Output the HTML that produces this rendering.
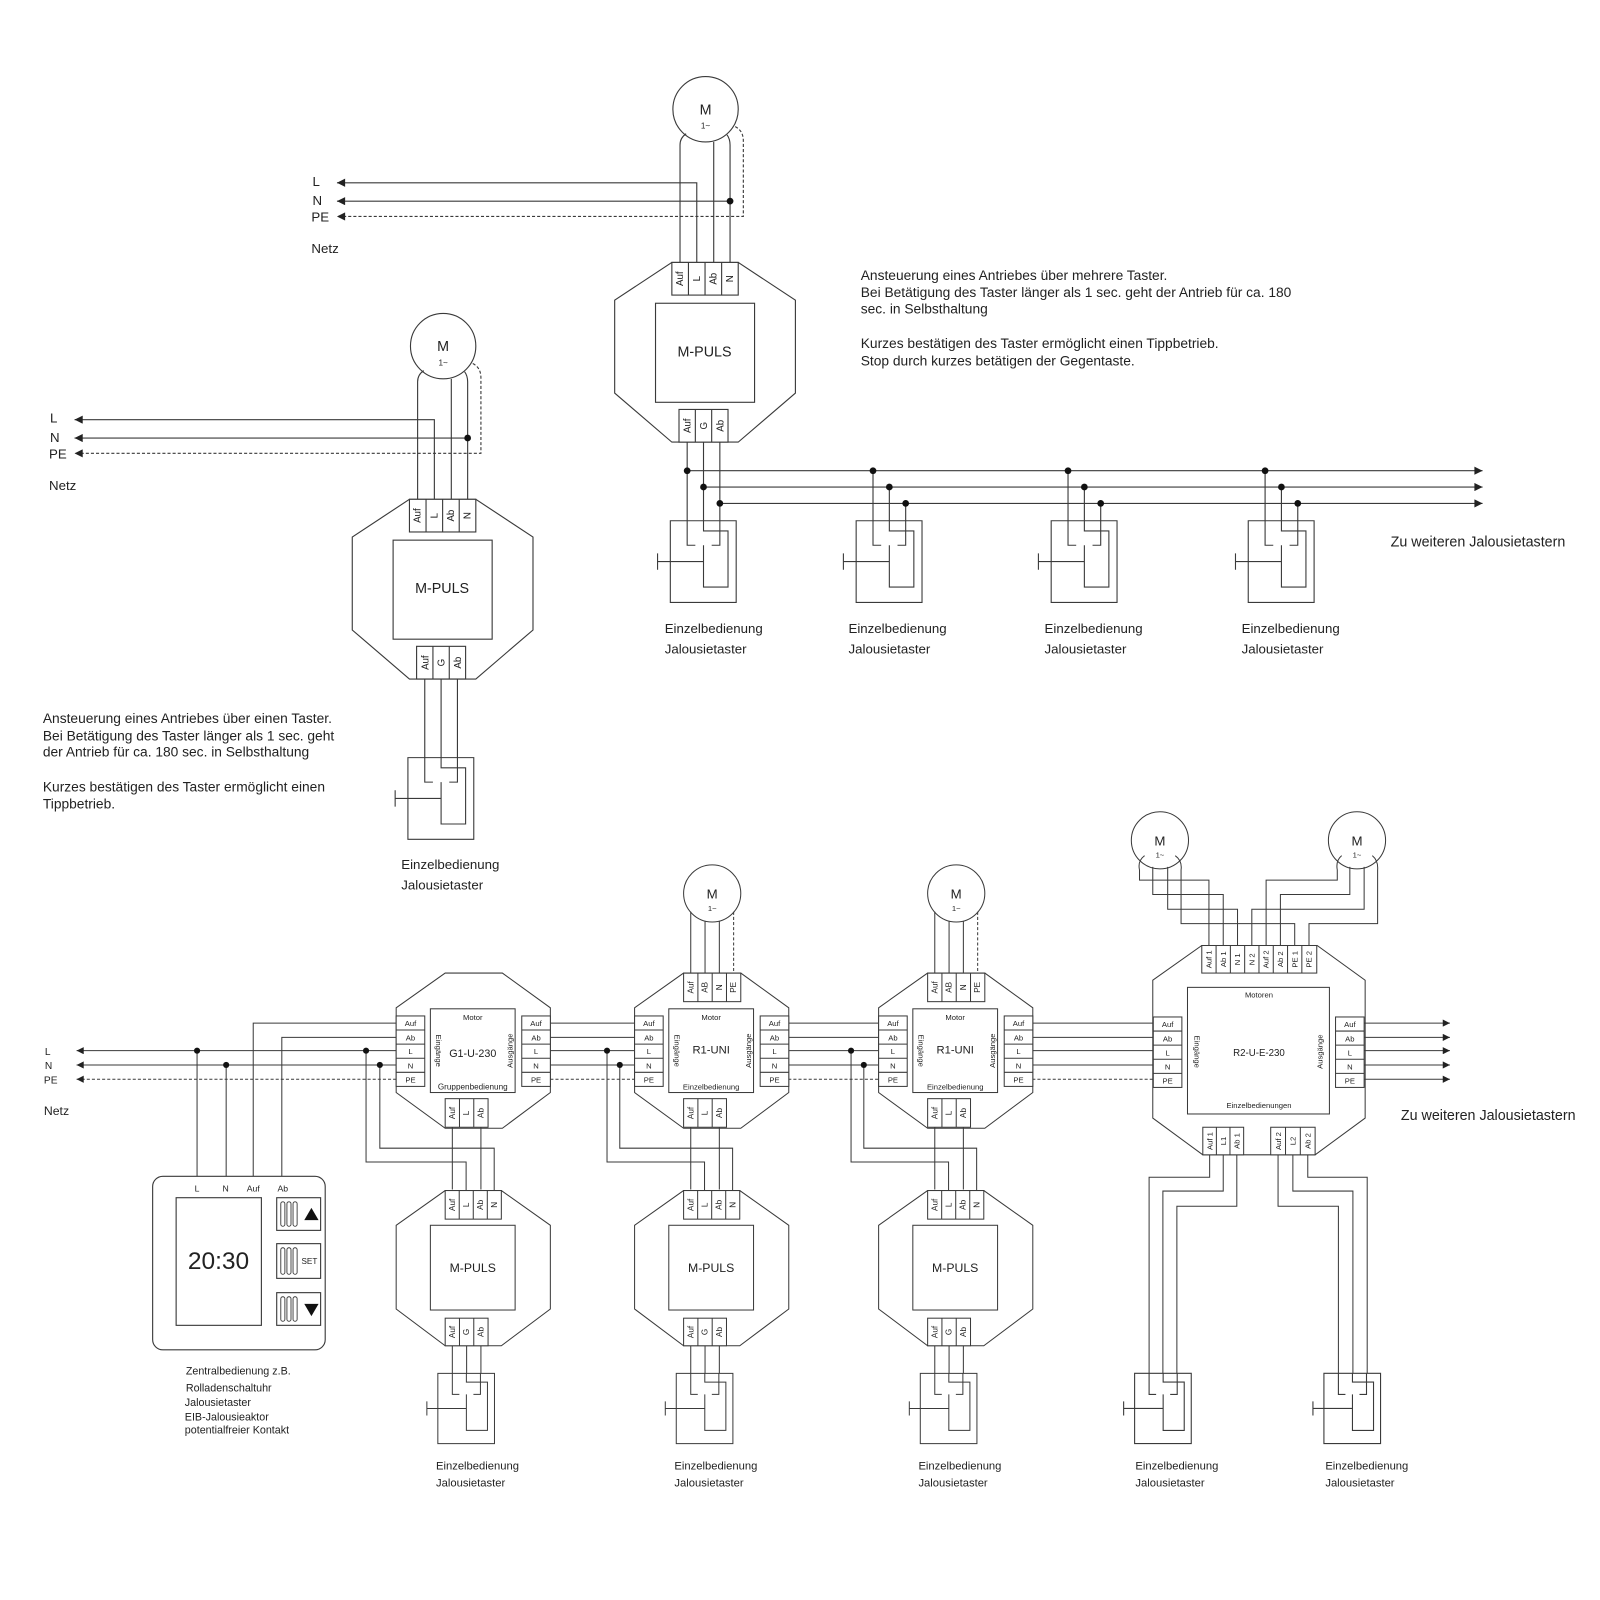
<!DOCTYPE html>
<html><head><meta charset="utf-8"><style>
html,body{margin:0;padding:0;background:#fff;}
svg{display:block;}
text{font-family:"Liberation Sans",Arial,sans-serif;fill:#222;stroke:none;}
.r{text-anchor:middle;}
</style></head><body>
<svg width="1600" height="1600" viewBox="0 0 1567 1567" xmlns="http://www.w3.org/2000/svg">
<defs>
<marker id="ah" viewBox="0 0 10 10" refX="10" refY="5" markerWidth="15" markerHeight="8" markerUnits="userSpaceOnUse" orient="auto-start-reverse"><path d="M0,0 L10,5 L0,10 z" fill="#222" stroke="none"/></marker>
<marker id="ah2" viewBox="0 0 10 10" refX="10" refY="5" markerWidth="14" markerHeight="7" markerUnits="userSpaceOnUse" orient="auto-start-reverse"><path d="M0,0 L10,5 L0,10 z" fill="#222" stroke="none"/></marker>
<g id="sw" fill="none" stroke="#3a3a3a">
<rect x="-16.5" y="0" width="64.5" height="80" vector-effect="non-scaling-stroke"/>
<path vector-effect="non-scaling-stroke" d="M16,0 V10 H40 V65 H16 V24 M0,0 V24 H8 M32,0 V24 H24 M-29,40 H16 M-29,32 V48"/>
</g>
<g id="mA" fill="none" stroke="#3a3a3a" stroke-width="1.1">
<circle cx="691" cy="107" r="32"/>
<text x="691" y="112" class="r" font-size="14">M</text>
<text x="691" y="126" class="r" font-size="8">1~</text>
<path d="M672,131 Q666,135 666,142 V257 M699,139 V257 M712,132 Q715,136 715,142 V257"/>
<path d="M720,124 Q728,128 728,138 V212 H330" stroke-dasharray="3,2" marker-end="url(#ah)"/>
<path d="M682.4,257 V179 H330" marker-end="url(#ah)"/>
<path d="M715,197 H330" marker-end="url(#ah)"/>
<circle cx="715" cy="197" r="3.3" fill="#111" stroke="none"/>
<polygon points="658,257 723,257 779,294 779,385 723,433 658,433 602,385 602,294"/>
<rect x="658" y="257" width="65" height="32" fill="#fff"/>
<path d="M674.25,257 V289 M690.5,257 V289 M706.75,257 V289"/>
<g font-size="9.5"><text transform="translate(669,273) rotate(-90)" class="r">Auf</text><text transform="translate(685.5,273) rotate(-90)" class="r">L</text><text transform="translate(701.8,273) rotate(-90)" class="r">Ab</text><text transform="translate(718,273) rotate(-90)" class="r">N</text></g>
<rect x="642" y="297" width="97" height="97"/>
<text x="690" y="349" class="r" font-size="14">M-PULS</text>
<rect x="665" y="401" width="48" height="32" fill="#fff"/>
<path d="M681,401 V433 M697,401 V433"/>
<g font-size="9.5"><text transform="translate(676.5,417) rotate(-90)" class="r">Auf</text><text transform="translate(692.5,417) rotate(-90)" class="r">G</text><text transform="translate(708.5,417) rotate(-90)" class="r">Ab</text></g>
</g>
<g id="mod" fill="none" stroke="#3a3a3a" stroke-width="1">
<polygon points="-48,987 0,953 56,953 103,987 103,1070 56,1105 0,1105 -48,1070"/>
<rect x="-48" y="995" width="28" height="69" fill="#fff"/>
<path d="M-48,1008.8 H-20 M-48,1022.6 H-20 M-48,1036.4 H-20 M-48,1050.2 H-20"/>
<rect x="75" y="995" width="28" height="69" fill="#fff"/>
<path d="M75,1008.8 H103 M75,1022.6 H103 M75,1036.4 H103 M75,1050.2 H103"/>
<g font-size="7.5" class="r"><text x="-34" y="1005">Auf</text><text x="-34" y="1019">Ab</text><text x="-34" y="1032.5">L</text><text x="-34" y="1046.5">N</text><text x="-34" y="1060">PE</text>
<text x="89" y="1005">Auf</text><text x="89" y="1019">Ab</text><text x="89" y="1032.5">L</text><text x="89" y="1046.5">N</text><text x="89" y="1060">PE</text></g>
<rect x="-14.5" y="988" width="83" height="82"/>
<text x="27" y="999" class="r" font-size="7.5">Motor</text>
<text transform="translate(-9,1029) rotate(90)" class="r" font-size="7.5">Eingänge</text>
<text transform="translate(66,1029) rotate(-90)" class="r" font-size="7.5">Ausgänge</text>
<rect x="0" y="1076" width="42" height="28" fill="#fff"/>
<path d="M14,1076 V1104 M28,1076 V1104"/>
<g font-size="8"><text transform="translate(9.5,1090) rotate(-90)" class="r">Auf</text><text transform="translate(23.5,1090) rotate(-90)" class="r">L</text><text transform="translate(37.5,1090) rotate(-90)" class="r">Ab</text></g>
<path d="M7,1104 V1165 M35,1104 V1165"/>
</g>
<g id="mot" fill="none" stroke="#3a3a3a" stroke-width="1">
<circle cx="28" cy="875" r="28"/>
<text x="28" y="880" class="r" font-size="13">M</text>
<text x="28" y="892" class="r" font-size="7.5">1~</text>
<path d="M7,893 V953 M21,902 V953 M35,902 V953"/>
<path d="M49,893 V953" stroke-dasharray="3,2"/>
<rect x="0" y="953" width="56" height="28" fill="#fff"/>
<path d="M14,953 V981 M28,953 V981 M42,953 V981"/>
<g font-size="8"><text transform="translate(9.5,967) rotate(-90)" class="r">Auf</text><text transform="translate(23.5,967) rotate(-90)" class="r">AB</text><text transform="translate(37.5,967) rotate(-90)" class="r">N</text><text transform="translate(51.5,967) rotate(-90)" class="r">PE</text></g>
</g>
<g id="lmp" fill="none" stroke="#3a3a3a" stroke-width="1">
<polygon points="-48,1200 0,1166 55,1166 103,1200 103,1282 55,1318 0,1318 -48,1282"/>
<rect x="0" y="1166" width="55" height="28" fill="#fff"/>
<path d="M13.75,1166 V1194 M27.5,1166 V1194 M41.25,1166 V1194"/>
<g font-size="8"><text transform="translate(9.5,1180) rotate(-90)" class="r">Auf</text><text transform="translate(23.2,1180) rotate(-90)" class="r">L</text><text transform="translate(37,1180) rotate(-90)" class="r">Ab</text><text transform="translate(50.7,1180) rotate(-90)" class="r">N</text></g>
<rect x="-14.5" y="1200" width="83" height="83"/>
<text x="27" y="1246" class="r" font-size="12">M-PULS</text>
<rect x="0" y="1291" width="42" height="27" fill="#fff"/>
<path d="M14,1291 V1318 M28,1291 V1318"/>
<g font-size="8"><text transform="translate(9.5,1304.5) rotate(-90)" class="r">Auf</text><text transform="translate(23.5,1304.5) rotate(-90)" class="r">G</text><text transform="translate(37.5,1304.5) rotate(-90)" class="r">Ab</text></g>
<path d="M7,1318 V1345 M21,1318 V1345 M35,1318 V1345"/>
<use href="#sw" transform="translate(7,1345) scale(0.86)"/>
<text x="-9" y="1439" font-size="11">Einzelbedienung</text>
<text x="-9" y="1456" font-size="11">Jalousietaster</text>
</g>
</defs>

<g fill="none" stroke="#3a3a3a" stroke-width="1.1">

<use href="#mA"/>
<text x="306" y="182" font-size="13">L</text>
<text x="306" y="201" font-size="13">N</text>
<text x="305" y="217" font-size="13">PE</text>
<text x="305" y="248" font-size="13">Netz</text>
<path d="M673,433 V510 M689,433 V510 M705,433 V510"/>
<path d="M673,461 H1452" marker-end="url(#ah)"/>
<path d="M689,477 H1452" marker-end="url(#ah)"/>
<path d="M705,493 H1452" marker-end="url(#ah)"/>
<path d="M855,461 V510 M871,477 V510 M887,493 V510 M1046,461 V510 M1062,477 V510 M1078,493 V510 M1239,461 V510 M1255,477 V510 M1271,493 V510"/>
<g fill="#111" stroke="none">
<circle cx="673" cy="461" r="3.3"/><circle cx="689" cy="477" r="3.3"/><circle cx="705" cy="493" r="3.3"/>
<circle cx="855" cy="461" r="3.3"/><circle cx="871" cy="477" r="3.3"/><circle cx="887" cy="493" r="3.3"/>
<circle cx="1046" cy="461" r="3.3"/><circle cx="1062" cy="477" r="3.3"/><circle cx="1078" cy="493" r="3.3"/>
<circle cx="1239" cy="461" r="3.3"/><circle cx="1255" cy="477" r="3.3"/><circle cx="1271" cy="493" r="3.3"/>
</g>
<use href="#sw" transform="translate(673,510)"/>
<use href="#sw" transform="translate(855,510)"/>
<use href="#sw" transform="translate(1046,510)"/>
<use href="#sw" transform="translate(1239,510)"/>
<g font-size="13">
<text x="651" y="620">Einzelbedienung</text><text x="651" y="640">Jalousietaster</text>
<text x="831" y="620">Einzelbedienung</text><text x="831" y="640">Jalousietaster</text>
<text x="1023" y="620">Einzelbedienung</text><text x="1023" y="640">Jalousietaster</text>
<text x="1216" y="620">Einzelbedienung</text><text x="1216" y="640">Jalousietaster</text>
</g>
<text x="1362" y="535" font-size="14">Zu weiteren Jalousietastern</text>
<g font-size="13.5">
<text x="843" y="274">Ansteuerung eines Antriebes über mehrere Taster.</text>
<text x="843" y="291">Bei Betätigung des Taster länger als 1 sec. geht der Antrieb für ca. 180</text>
<text x="843" y="307">sec. in Selbsthaltung</text>
<text x="843" y="341">Kurzes bestätigen des Taster ermöglicht einen Tippbetrieb.</text>
<text x="843" y="358">Stop durch kurzes betätigen der Gegentaste.</text>
</g>

<use href="#mA" transform="translate(-257,232)"/>
<text x="49" y="414" font-size="13">L</text>
<text x="49" y="433" font-size="13">N</text>
<text x="48" y="449" font-size="13">PE</text>
<text x="48" y="480" font-size="13">Netz</text>
<path d="M416,665 V742 M432,665 V742 M448,665 V742"/>
<use href="#sw" transform="translate(416,742)"/>
<text x="393" y="851" font-size="13">Einzelbedienung</text>
<text x="393" y="871" font-size="13">Jalousietaster</text>
<g font-size="13.5">
<text x="42" y="708">Ansteuerung eines Antriebes über einen Taster.</text>
<text x="42" y="725">Bei Betätigung des Taster länger als 1 sec. geht</text>
<text x="42" y="741">der Antrieb für ca. 180 sec. in Selbsthaltung</text>
<text x="42" y="775">Kurzes bestätigen des Taster ermöglicht einen</text>
<text x="42" y="792">Tippbetrieb.</text>
</g>

<g stroke-width="1">
<path d="M388,1029 H75" marker-end="url(#ah2)"/>
<path d="M388,1043 H75" marker-end="url(#ah2)"/>
<path d="M388,1057 H75" stroke-dasharray="3,2" marker-end="url(#ah2)"/>
<path d="M193,1029 V1152 M221.5,1043 V1152 M388,1002 H248 V1152 M388,1016 H276 V1152"/>
<path d="M539,1002 H621 M539,1016 H621 M539,1029 H621 M539,1043 H621 M772,1002 H860 M772,1016 H860 M772,1029 H860 M772,1043 H860 M1011,1002 H1129.5 M1011,1016 H1129.5 M1011,1029 H1129.5 M1011,1043 H1129.5"/>
<path d="M539,1057 H621 M772,1057 H860 M1011,1057 H1129.5" stroke-dasharray="3,2"/>
<path d="M1336,1002 H1420" marker-end="url(#ah2)"/>
<path d="M1336,1016 H1420" marker-end="url(#ah2)"/>
<path d="M1336,1029 H1420" marker-end="url(#ah2)"/>
<path d="M1336,1043 H1420" marker-end="url(#ah2)"/>
<path d="M1336,1057 H1420" marker-end="url(#ah2)"/>
<path d="M358.5,1029 V1138 H456.5 V1166 M372,1043 V1124.5 H484 V1166"/>
<path d="M594.5,1029 V1138 H690 V1166 M607,1043 V1124.5 H717.5 V1166"/>
<path d="M833.5,1029 V1138 H929 V1166 M846,1043 V1124.5 H956.5 V1166"/>
</g>
<g fill="#111" stroke="none">
<circle cx="193" cy="1029" r="3"/><circle cx="221.5" cy="1043" r="3"/>
<circle cx="358.5" cy="1029" r="3"/><circle cx="372" cy="1043" r="3"/>
<circle cx="594.5" cy="1029" r="3"/><circle cx="607" cy="1043" r="3"/>
<circle cx="833.5" cy="1029" r="3"/><circle cx="846" cy="1043" r="3"/>
</g>
<text x="44" y="1033" font-size="10">L</text>
<text x="44" y="1047" font-size="10">N</text>
<text x="43" y="1061" font-size="10">PE</text>
<text x="43" y="1092" font-size="12">Netz</text>

<use href="#mod" transform="translate(436,0)"/>
<text x="463" y="1035" class="r" font-size="10.5">G1-U-230</text>
<text x="463" y="1067" class="r" font-size="8">Gruppenbedienung</text>
<use href="#lmp" transform="translate(436,0)"/>

<use href="#mot" transform="translate(669.5,0)"/>
<use href="#mod" transform="translate(669.5,0)"/>
<text x="696.5" y="1032" class="r" font-size="11">R1-UNI</text>
<text x="696.5" y="1067" class="r" font-size="7.5">Einzelbedienung</text>
<use href="#lmp" transform="translate(669.5,0)"/>

<use href="#mot" transform="translate(908.5,0)"/>
<use href="#mod" transform="translate(908.5,0)"/>
<text x="935.5" y="1032" class="r" font-size="11">R1-UNI</text>
<text x="935.5" y="1067" class="r" font-size="7.5">Einzelbedienung</text>
<use href="#lmp" transform="translate(908.5,0)"/>

<rect x="149.5" y="1152" width="169" height="170" rx="10"/>
<g font-size="8.5" class="r"><text x="193" y="1167">L</text><text x="221" y="1167">N</text><text x="248" y="1167">Auf</text><text x="277" y="1167">Ab</text></g>
<rect x="172.5" y="1173" width="83.5" height="125"/>
<text x="214" y="1243" class="r" font-size="24" font-family="Liberation Mono">20:30</text>
<rect x="271" y="1173" width="43" height="32"/>
<rect x="271" y="1218" width="43" height="34"/>
<rect x="271" y="1266" width="43" height="32"/>
<g stroke-width="0.9">
<rect x="275" y="1177" width="4" height="24" rx="2"/><rect x="281" y="1177" width="4" height="24" rx="2"/><rect x="287" y="1177" width="4" height="24" rx="2"/>
<rect x="275" y="1222" width="4" height="26" rx="2"/><rect x="281" y="1222" width="4" height="26" rx="2"/><rect x="287" y="1222" width="4" height="26" rx="2"/>
<rect x="275" y="1270" width="4" height="24" rx="2"/><rect x="281" y="1270" width="4" height="24" rx="2"/><rect x="287" y="1270" width="4" height="24" rx="2"/>
</g>
<polygon points="305,1183 312,1195 298,1195" fill="#111" stroke="none"/>
<polygon points="298,1277 312,1277 305,1289" fill="#111" stroke="none"/>
<text x="303" y="1238" class="r" font-size="8">SET</text>
<g font-size="10.5">
<text x="182" y="1346">Zentralbedienung z.B.</text>
<text x="182" y="1363">Rolladenschaltuhr</text>
<text x="181" y="1377">Jalousietaster</text>
<text x="181" y="1391">EIB-Jalousieaktor</text>
<text x="181" y="1404">potentialfreier Kontakt</text>
</g>

<g stroke-width="1">
<circle cx="1136" cy="823" r="28"/>
<text x="1136" y="828" class="r" font-size="13">M</text>
<text x="1136" y="840" class="r" font-size="7.5">1~</text>
<circle cx="1329" cy="823" r="28"/>
<text x="1329" y="828" class="r" font-size="13">M</text>
<text x="1329" y="840" class="r" font-size="7.5">1~</text>
<path d="M1121,838 Q1114,843 1116,852 V862 H1184 V926"/>
<path d="M1129,849 V876 H1198 V926"/>
<path d="M1143.6,849 V890.5 H1212 V926"/>
<path d="M1151,838 Q1158,843 1156.7,852 V904.6 H1268 V926"/>
<path d="M1314,838 Q1308,843 1309.7,852 V862 H1240 V926"/>
<path d="M1322,849 V876 H1254 V926"/>
<path d="M1336,849 V890.5 H1226 V926"/>
<path d="M1344,838 Q1350,843 1349.2,852 V904.6 H1282 V926"/>
<polygon points="1129,960 1177,926 1290,926 1337,960 1337,1095 1288,1131 1178,1131 1129,1095"/>
<rect x="1177" y="926" width="112.6" height="27" fill="#fff"/>
<path d="M1191,926 V953 M1205,926 V953 M1219,926 V953 M1233,926 V953 M1247,926 V953 M1261,926 V953 M1275,926 V953"/>
<g font-size="7.5"><text transform="translate(1186.5,939.5) rotate(-90)" class="r">Auf 1</text><text transform="translate(1200.5,939.5) rotate(-90)" class="r">Ab 1</text><text transform="translate(1214.5,939.5) rotate(-90)" class="r">N 1</text><text transform="translate(1228.5,939.5) rotate(-90)" class="r">N 2</text><text transform="translate(1242.5,939.5) rotate(-90)" class="r">Auf 2</text><text transform="translate(1256.5,939.5) rotate(-90)" class="r">Ab 2</text><text transform="translate(1270.5,939.5) rotate(-90)" class="r">PE 1</text><text transform="translate(1284.5,939.5) rotate(-90)" class="r">PE 2</text></g>
<rect x="1129.5" y="996" width="28" height="69" fill="#fff"/>
<path d="M1129.5,1009.8 H1157.5 M1129.5,1023.6 H1157.5 M1129.5,1037.4 H1157.5 M1129.5,1051.2 H1157.5"/>
<rect x="1308" y="996" width="28" height="69" fill="#fff"/>
<path d="M1308,1009.8 H1336 M1308,1023.6 H1336 M1308,1037.4 H1336 M1308,1051.2 H1336"/>
<g font-size="7.5" class="r"><text x="1143.5" y="1006">Auf</text><text x="1143.5" y="1020">Ab</text><text x="1143.5" y="1033.5">L</text><text x="1143.5" y="1047.5">N</text><text x="1143.5" y="1061">PE</text>
<text x="1322" y="1006">Auf</text><text x="1322" y="1020">Ab</text><text x="1322" y="1033.5">L</text><text x="1322" y="1047.5">N</text><text x="1322" y="1061">PE</text></g>
<rect x="1163" y="967" width="139" height="124"/>
<text x="1233" y="977" class="r" font-size="7.5">Motoren</text>
<text x="1233" y="1034" class="r" font-size="9.5">R2-U-E-230</text>
<text x="1233" y="1085" class="r" font-size="7.5">Einzelbedienungen</text>
<text transform="translate(1170,1030) rotate(90)" class="r" font-size="7.5">Eingänge</text>
<text transform="translate(1295,1030) rotate(-90)" class="r" font-size="7.5">Ausgänge</text>
<rect x="1178" y="1104" width="40" height="27" fill="#fff"/>
<path d="M1191.3,1104 V1131 M1204.6,1104 V1131"/>
<rect x="1244.5" y="1104" width="43.5" height="27" fill="#fff"/>
<path d="M1259,1104 V1131 M1273.5,1104 V1131"/>
<g font-size="7.5"><text transform="translate(1187.5,1117.5) rotate(-90)" class="r">Auf 1</text><text transform="translate(1200.8,1117.5) rotate(-90)" class="r">L1</text><text transform="translate(1214,1117.5) rotate(-90)" class="r">Ab 1</text>
<text transform="translate(1254.5,1117.5) rotate(-90)" class="r">Auf 2</text><text transform="translate(1269,1117.5) rotate(-90)" class="r">L2</text><text transform="translate(1283.5,1117.5) rotate(-90)" class="r">Ab 2</text></g>
<path d="M1184.7,1131 V1153 H1125.4 V1345 M1198,1131 V1166.5 H1138.9 V1345 M1211.3,1131 V1181.4 H1152.6 V1345"/>
<path d="M1251.7,1131 V1181.4 H1310.8 V1345 M1266.2,1131 V1166.5 H1325 V1345 M1280.8,1131 V1153 H1339 V1345"/>
</g>
<use href="#sw" transform="translate(1125.4,1345) scale(0.86)"/>
<use href="#sw" transform="translate(1310.8,1345) scale(0.86)"/>
<g font-size="11">
<text x="1112" y="1439">Einzelbedienung</text><text x="1112" y="1456">Jalousietaster</text>
<text x="1298" y="1439">Einzelbedienung</text><text x="1298" y="1456">Jalousietaster</text>
</g>
<text x="1372" y="1097" font-size="14">Zu weiteren Jalousietastern</text>
</g>
</svg>
</body></html>
